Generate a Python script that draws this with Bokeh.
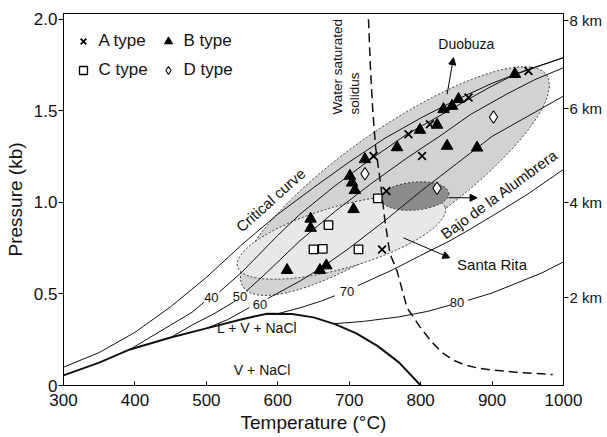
import math
from bokeh.plotting import figure
from bokeh.models import (LinearAxis, FixedTicker, Arrow, NormalHead, Legend,
                          LegendItem, Range1d)
from bokeh.core.properties import value
from bokeh.embed import file_html
from bokeh.resources import INLINE

nan = float("nan")
FONT = "Liberation Sans"

# ---------------- data ----------------
# critical curve
crit_T = [300, 350, 400, 450, 500, 550, 600, 650, 700, 750, 800, 850, 900, 950, 1000]
crit_P = [0.10, 0.18, 0.29, 0.43, 0.59, 0.77, 0.935, 1.08, 1.22, 1.35, 1.46, 1.56, 1.65, 1.725, 1.79]

# halite saturation curve (L + V + NaCl boundary)
hal_T = [300, 350, 393, 450, 500, 550, 585, 620, 650, 680, 710, 740, 770, 800]
hal_P = [0.055, 0.125, 0.197, 0.262, 0.312, 0.362, 0.392, 0.39, 0.372, 0.335, 0.285, 0.215, 0.125, 0.0]

# salinity isopleths (wt% NaCl); nan = gap for the inline label
iso40_T = [393, 420, 450, 480, 497, nan, 518, 550, 600, 631, 680, 730, 780, 830, 870, 900, 930, 1000]
iso40_P = [0.197, 0.26, 0.33, 0.40, 0.455, nan, 0.51, 0.62, 0.82, 0.935, 1.09, 1.235, 1.37, 1.48, 1.57, 1.635, 1.695, 1.79]
iso50_T = [450, 480, 510, 540, nan, 556, 580, 631, 680, 730, 780, 830, 870, 920, 960, 1000]
iso50_P = [0.262, 0.33, 0.39, 0.46, nan, 0.515, 0.60, 0.79, 0.95, 1.10, 1.24, 1.37, 1.48, 1.59, 1.67, 1.735]
iso60_T = [500, 530, 560, nan, 586, 631, 664, 700, 750, 800, 850, 900, 950, 1000]
iso60_P = [0.312, 0.36, 0.425, nan, 0.475, 0.57, 0.65, 0.75, 0.90, 1.06, 1.21, 1.36, 1.47, 1.58]
iso70_T = [600, 631, 660, 680, nan, 712, 760, 800, 841, 870, 900, 950, 1000]
iso70_P = [0.392, 0.424, 0.46, 0.49, nan, 0.545, 0.63, 0.71, 0.79, 0.855, 0.925, 1.045, 1.18]
iso80_T = [678, 720, 770, 810, 842, nan, 866, 900, 935, 970, 1000]
iso80_P = [0.337, 0.35, 0.375, 0.405, 0.44, nan, 0.465, 0.505, 0.56, 0.615, 0.675]

# water saturated solidus
sol_T = [727, 729.5, 733, 737, 744, 750, 757, 767, 781, 800, 815, 830, 845, 860, 880, 900, 940, 985]
sol_P = [2.0, 1.75, 1.5, 1.3, 1.1, 0.9, 0.72, 0.625, 0.424, 0.315, 0.24, 0.18, 0.14, 0.115, 0.095, 0.085, 0.07, 0.06]

# fluid inclusion types
A_T = [951, 867, 813, 783, 734, 802, 752, 746]
A_P = [1.717, 1.572, 1.426, 1.372, 1.253, 1.253, 1.062, 0.743]
B_T = [932, 853, 844, 832, 823, 799, 767, 837, 879, 722, 701, 704, 708, 706, 646, 646, 613, 659, 668]
B_P = [1.70, 1.563, 1.526, 1.508, 1.423, 1.395, 1.30, 1.308, 1.298, 1.235, 1.144, 1.107, 1.066, 0.962, 0.91, 0.86, 0.63, 0.63, 0.655]
C_T = [740, 671, 650, 663, 713]
C_P = [1.022, 0.876, 0.743, 0.746, 0.743]
D_T = [902, 722, 823]
D_P = [1.466, 1.156, 1.077]

# deposit fields (centre T, centre P)
field_names = ["Duobuza", "Santa Rita", "Bajo de la Alumbrera"]
field_T = [764, 689, 792]
field_P = [1.116, 0.810, 1.034]

# axes
x_ticks = [300, 400, 500, 600, 700, 800, 900, 1000]
y_ticks = [0, 0.5, 1.0, 1.5, 2.0]
y_labels = ["0", "0.5", "1.0", "1.5", "2.0"]
km_labels = ["2 km", "4 km", "6 km", "8 km"]
km_pos = [0.483, 0.997, 1.515, 1.995]

# ---------------- figure ----------------
p = figure(width=606, height=436, x_range=Range1d(300, 1000), y_range=Range1d(0, 2.031),
           output_backend="svg", toolbar_location=None,
           min_border_left=63, min_border_right=43, min_border_top=13, min_border_bottom=51)
p.xgrid.visible = False
p.ygrid.visible = False
p.outline_line_color = "black"
p.outline_line_width = 1
p.background_fill_color = "white"

# fields
p.ellipse(x=[field_T[0]], y=[field_P[0]], width=370, height=104, angle=0.611,
          width_units="screen", height_units="screen",
          fill_color="#d2d2d2", line_color="#333333", line_dash="2 2", line_width=1)
p.ellipse(x=[field_T[1]], y=[field_P[1]], width=216, height=62, angle=0.279,
          width_units="screen", height_units="screen",
          fill_color="#e8e8e8", line_color="#333333", line_dash="2 2", line_width=1)
p.ellipse(x=[field_T[2]], y=[field_P[2]], width=68, height=28, angle=0.087,
          width_units="screen", height_units="screen",
          fill_color="#8c8c8c", line_color="#333333", line_dash="2 2", line_width=1)

# curves
lc = "#111111"
p.line(crit_T, crit_P, line_color=lc, line_width=1)
for tt, pp in [(iso40_T, iso40_P), (iso50_T, iso50_P), (iso60_T, iso60_P),
               (iso70_T, iso70_P), (iso80_T, iso80_P)]:
    p.line(tt, pp, line_color=lc, line_width=1)
p.line(hal_T, hal_P, line_color=lc, line_width=2)
p.line(sol_T, sol_P, line_color=lc, line_width=1.5, line_dash="9 5")

# markers
rA = p.scatter(A_T, A_P, marker="x", size=11, line_color="black", line_width=1.8)
rB = p.scatter(B_T, B_P, marker="triangle", size=11.5, fill_color="black", line_color="black")
rC = p.scatter(C_T, C_P, marker="square", size=8.5, fill_color="white", line_color="black", line_width=1.3)
rD = p.scatter(D_T, D_P, marker="diamond", size=12.5, fill_color="white", line_color="black", line_width=1.1)

# arrows
head = dict(size=7, fill_color="black", line_color="black")
p.add_layout(Arrow(end=NormalHead(**head), x_start=837, y_start=1.59, x_end=846, y_end=1.79, line_width=1))
p.add_layout(Arrow(end=NormalHead(**head), x_start=776, y_start=0.806, x_end=841, y_end=0.697, line_width=1))
p.add_layout(Arrow(end=NormalHead(**head), x_start=839, y_start=1.025, x_end=879, y_end=1.025, line_width=1))

# texts
def txt(x, y, s, size, angle=0.0, align="center", baseline="middle"):
    p.text(x=[x], y=[y], text=[s], angle=angle, text_font=value(FONT),
           text_font_size=size, text_align=align, text_baseline=baseline, text_color="#111111")

txt(864, 1.865, field_names[0], "14px")
txt(851, 0.66, field_names[1], "15px", align="left")
txt(910, 1.045, field_names[2], "15px", angle=0.63)
txt(590, 1.013, "Critical curve", "15px", angle=0.73)
txt(683, 1.48, "Water saturated", "13.5px", angle=math.pi / 2, align="left")
txt(708, 1.48, "solidus", "13.5px", angle=math.pi / 2, align="left")
txt(507, 0.479, "40", "13px")
txt(547, 0.488, "50", "13px")
txt(575, 0.443, "60", "13px")
txt(697, 0.515, "70", "13px")
txt(851, 0.451, "80", "13px")
txt(571, 0.315, "L + V + NaCl", "14px")
txt(578, 0.084, "V + NaCl", "14px")

# axes styling
for ax in (p.xaxis[0], p.yaxis[0]):
    ax.axis_line_color = "black"
    ax.major_tick_line_color = "black"
    ax.minor_tick_line_color = None
    ax.major_label_text_font = FONT
    ax.major_label_text_font_size = "17px"
    ax.major_label_text_color = "#111111"
    ax.axis_label_text_font = FONT
    ax.axis_label_text_font_size = "19px"
    ax.axis_label_text_font_style = "normal"
    ax.axis_label_text_color = "#111111"

p.xaxis.ticker = FixedTicker(ticks=x_ticks)
p.xaxis.major_tick_in = 4
p.xaxis.major_tick_out = 0
p.xaxis.major_label_standoff = 8
p.xaxis.axis_label = "Temperature (°C)"
p.xaxis.axis_label_standoff = 3

p.yaxis.ticker = FixedTicker(ticks=y_ticks)
p.yaxis.major_label_overrides = {k: v for k, v in zip(y_ticks, y_labels)}
p.yaxis.major_tick_in = 0
p.yaxis.major_tick_out = 5
p.yaxis.major_label_standoff = 1
p.yaxis.axis_label = "Pressure (kb)"
p.yaxis.axis_label_standoff = 5

rax = LinearAxis(ticker=FixedTicker(ticks=km_pos),
                 major_label_overrides={k: v for k, v in zip(km_pos, km_labels)})
rax.axis_line_color = "black"
rax.major_tick_line_color = "black"
rax.minor_tick_line_color = None
rax.major_tick_in = 0
rax.major_tick_out = 5
rax.major_label_standoff = 1
rax.axis_label_standoff = 0
rax.major_label_text_font = FONT
rax.major_label_text_font_size = "15px"
rax.major_label_text_color = "#111111"
p.add_layout(rax, "right")

# legend
legend = Legend(items=[LegendItem(label="A type", renderers=[rA]),
                       LegendItem(label="B type", renderers=[rB]),
                       LegendItem(label="C type", renderers=[rC]),
                       LegendItem(label="D type", renderers=[rD])],
                location=(9.5, 305), orientation="horizontal", ncols=2,
                border_line_alpha=0, background_fill_alpha=0, padding=0, margin=0,
                spacing=9, glyph_width=20, glyph_height=20, label_standoff=6,
                label_width=50, label_text_font=FONT, label_text_font_size="17px",
                label_text_color="#111111")
p.add_layout(legend)

open("out.html", "w").write(file_html(p, INLINE))
